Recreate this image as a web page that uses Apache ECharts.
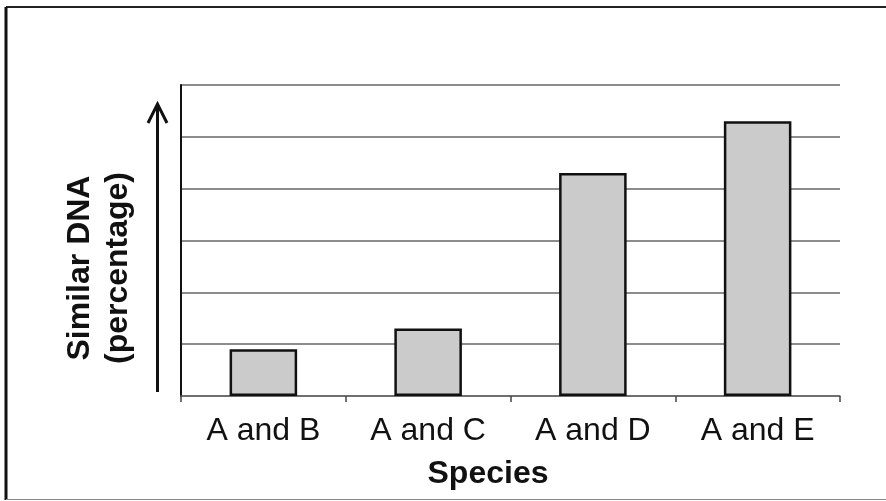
<!DOCTYPE html>
<html>
<head>
<meta charset="utf-8">
<script src="https://cdn.jsdelivr.net/npm/echarts@6/dist/echarts.min.js"></script>
<style>
html,body{margin:0;padding:0;background:#fff;}
#chart{width:886px;height:501px;}
</style>
</head>
<body>
<div id="chart"></div>
<script>
var categories = ['A and B', 'A and C', 'A and D', 'A and E'];
var similarDNA = [9, 13, 43, 53];
var yMin = 0, yMax = 60, yStep = 10;
var xAxisTitle = 'Species';
var yAxisTitle = 'Similar DNA\n(percentage)';

var chart = echarts.init(document.getElementById('chart'), null, {renderer: 'canvas'});
var FONT = '"Liberation Sans", Arial, Helvetica, sans-serif';

chart.setOption({
  backgroundColor: '#ffffff',
  animation: false,
  grid: {left: 181, top: 85, width: 659, height: 311, containLabel: false},
  xAxis: {
    type: 'category',
    data: categories,
    boundaryGap: true,
    axisLine: {show: true, lineStyle: {color: '#666', width: 1.5}},
    axisTick: {show: true, length: 6, alignWithLabel: false, lineStyle: {color: '#444', width: 1.5}},
    axisLabel: {fontSize: 32, color: '#111', fontFamily: FONT, margin: 19},
    splitLine: {show: false}
  },
  yAxis: {
    type: 'value',
    min: yMin, max: yMax, interval: yStep,
    axisLine: {show: true, onZero: false, lineStyle: {color: '#111', width: 2}},
    axisTick: {show: false},
    axisLabel: {show: false},
    splitLine: {show: true, lineStyle: {color: '#666', width: 1.5}}
  },
  series: [{
    type: 'bar',
    data: similarDNA,
    barWidth: '41%',
    itemStyle: {color: '#cbcbcb', borderColor: '#111', borderWidth: 2.5},
    z: 3
  }],
  graphic: [
    // outer frame
    {type: 'line', shape: {x1: 6, y1: 7, x2: 886, y2: 7}, style: {stroke: '#222', lineWidth: 2}, silent: true},
    {type: 'line', shape: {x1: 6, y1: 7, x2: 6, y2: 500}, style: {stroke: '#111', lineWidth: 3}, silent: true},
    {type: 'line', shape: {x1: 6, y1: 499.5, x2: 886, y2: 499.5}, style: {stroke: '#888', lineWidth: 1}, silent: true},
    // arrow
    {type: 'line', shape: {x1: 157.5, y1: 392, x2: 157.5, y2: 105}, style: {stroke: '#111', lineWidth: 3}, silent: true},
    {type: 'polyline', shape: {points: [[148, 123], [157.5, 104], [167, 123]]}, style: {stroke: '#111', lineWidth: 3, fill: null, lineJoin: 'miter'}, silent: true},
    // y title
    {type: 'text', x: 99, y: 268, rotation: Math.PI / 2,
      style: {text: yAxisTitle, font: 'bold 32px ' + FONT, fill: '#111', align: 'center', verticalAlign: 'middle', lineHeight: 38},
      silent: true},
    // x title
    {type: 'text', x: 488, y: 474,
      style: {text: xAxisTitle, font: 'bold 32px ' + FONT, fill: '#111', align: 'center', verticalAlign: 'middle'},
      silent: true}
  ]
});
</script>
</body>
</html>
